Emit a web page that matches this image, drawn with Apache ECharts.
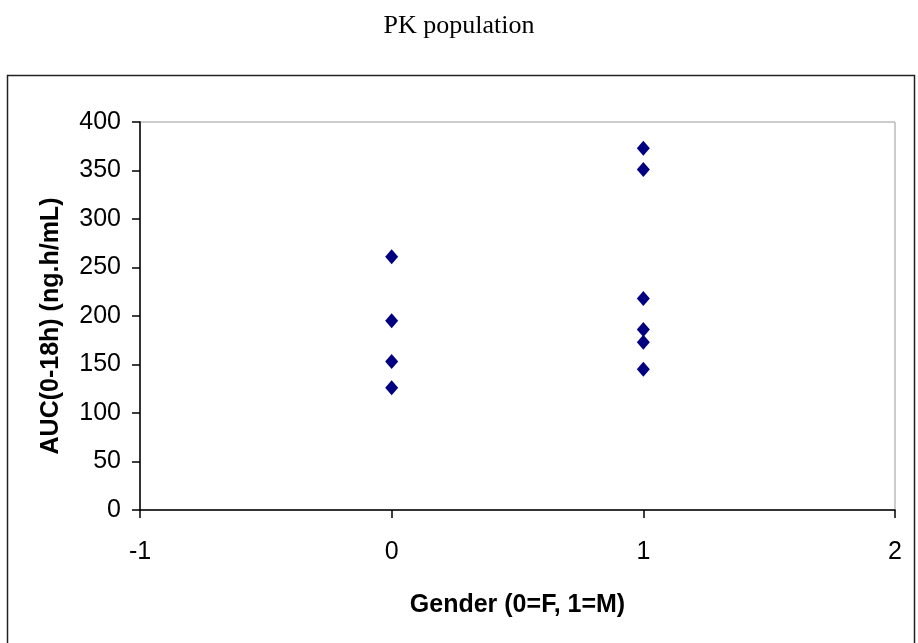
<!DOCTYPE html>
<html><head><meta charset="utf-8">
<script src="https://cdn.jsdelivr.net/npm/echarts@6/dist/echarts.min.js"></script>
<style>html,body{margin:0;padding:0;background:#fff}#c{width:918px;height:643px}</style>
</head><body><div id="c"></div>
<script>
const genderX = [0, 0, 0, 0, 1, 1, 1, 1, 1, 1];
const aucValues = [261, 195, 153, 126, 373, 351, 218, 186, 173, 145];
const xTicks = [-1, 0, 1, 2];
const yTicks = [0, 50, 100, 150, 200, 250, 300, 350, 400];

const chart = echarts.init(document.getElementById('c'));
chart.setOption({
  animation: false,
  backgroundColor: '#fff',
  title: {
    text: 'PK population', left: 'center', top: 8,
    textStyle: {fontFamily: 'Liberation Serif', fontSize: 26, fontWeight: 'normal', color: '#000'}
  },
  graphic: [{
    type: 'rect', shape: {x: 7.5, y: 75.5, width: 907, height: 580},
    style: {fill: null, stroke: '#222', lineWidth: 1.5}, silent: true, z: -1
  }],
  grid: {left: 140, right: 23, top: 122, bottom: 133, show: true, borderColor: '#999', borderWidth: 1, backgroundColor: 'transparent'},
  xAxis: {
    type: 'value', min: xTicks[0], max: xTicks[xTicks.length - 1], interval: 1,
    name: 'Gender (0=F, 1=M)', nameLocation: 'middle', nameGap: 83,
    nameTextStyle: {fontFamily: 'Liberation Sans', fontWeight: 'bold', fontSize: 25, color: '#000'},
    axisLine: {show: true, onZero: false, lineStyle: {color: '#000', width: 1.5}},
    axisTick: {show: true, inside: false, length: 8, lineStyle: {color: '#000', width: 1.5}},
    axisLabel: {fontFamily: 'Liberation Sans', fontSize: 25, color: '#000', margin: 30},
    splitLine: {show: false}
  },
  yAxis: {
    type: 'value', min: yTicks[0], max: yTicks[yTicks.length - 1], interval: 50,
    name: 'AUC(0-18h) (ng.h/mL)', nameLocation: 'middle', nameGap: 76, nameRotate: 90,
    nameTextStyle: {fontFamily: 'Liberation Sans', fontWeight: 'bold', fontSize: 25, color: '#000', padding: [0, 20, 0, 0]},
    axisLine: {show: true, onZero: false, lineStyle: {color: '#000', width: 1.5}},
    axisTick: {show: true, inside: false, length: 8, lineStyle: {color: '#000', width: 1.5}},
    axisLabel: {fontFamily: 'Liberation Sans', fontSize: 25, color: '#000', margin: 19},
    splitLine: {show: false}
  },
  series: [{
    type: 'scatter',
    data: genderX.map((g, i) => [g, aucValues[i]]),
    symbol: 'diamond', symbolSize: [13, 15],
    itemStyle: {color: '#000080', opacity: 1}
  }]
});
</script></body></html>
